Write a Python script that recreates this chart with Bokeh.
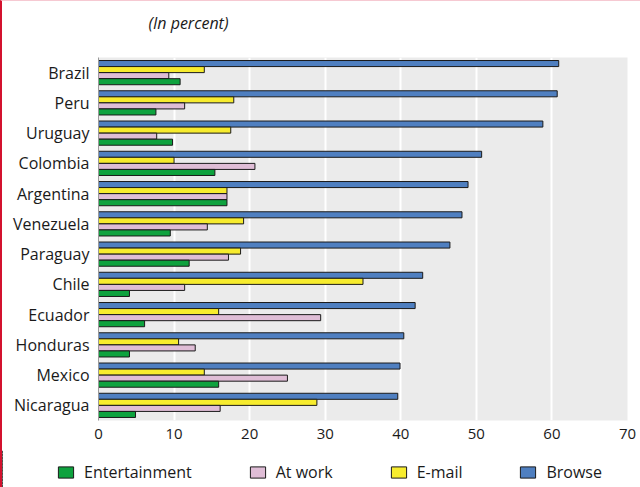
from bokeh.plotting import figure
from bokeh.layouts import column
from bokeh.models import (ColumnDataSource, FactorRange, Range1d, Legend, LegendItem,
                          FixedTicker, Label)
from bokeh.transform import dodge
from bokeh.embed import file_html
from bokeh.resources import INLINE

countries = ["Brazil", "Peru", "Uruguay", "Colombia", "Argentina", "Venezuela",
             "Paraguay", "Chile", "Ecuador", "Honduras", "Mexico", "Nicaragua"]
browse = [60.9, 60.7, 58.8, 50.7, 48.9, 48.1, 46.5, 42.9, 41.9, 40.4, 39.9, 39.6]
email = [14.0, 17.9, 17.5, 10.0, 17.0, 19.2, 18.8, 35.0, 15.9, 10.6, 14.0, 28.9]
at_work = [9.3, 11.4, 7.7, 20.7, 17.0, 14.4, 17.2, 11.4, 29.4, 12.8, 25.0, 16.1]
entertainment = [10.8, 7.6, 9.8, 15.4, 17.0, 9.5, 12.0, 4.1, 6.1, 4.1, 15.9, 4.9]
x_ticks = [0, 10, 20, 30, 40, 50, 60, 70]
title_text = "(In percent)"

source = ColumnDataSource(dict(country=countries, browse=browse, email=email,
                               at_work=at_work, entertainment=entertainment))

FONT = "Open Sans"
TXT = "#1a1a1a"
W = 638
ML, MR = 96, 13

series = [
    ("browse", 0.3, "#4f7fc0", "Browse"),
    ("email", 0.1, "#f7ec2e", "E-mail"),
    ("at_work", -0.1, "#dfbdd6", "At work"),
    ("entertainment", -0.3, "#0ea23e", "Entertainment"),
]

# ---- title strip
tf = figure(width=W, height=56, output_backend="svg", toolbar_location=None,
            x_axis_location=None, y_axis_location=None,
            x_range=Range1d(0, 70), y_range=Range1d(0, 1),
            min_border_left=ML, min_border_right=MR, min_border_top=0, min_border_bottom=0)
tf.outline_line_color = None
tf.grid.grid_line_color = None
tf.background_fill_color = "white"
tf.border_fill_color = "white"
tf.add_layout(Label(x=6.6, y=0.62, text=title_text, text_font=FONT, text_font_style="italic",
                    text_font_size="16px", text_color=TXT, text_baseline="middle",
                    text_align="left"))

# ---- main chart
p = figure(width=W, height=393, output_backend="svg", toolbar_location=None,
           y_range=FactorRange(factors=list(reversed(countries)), range_padding=0),
           x_range=tf.x_range,
           min_border_left=ML, min_border_right=MR, min_border_top=0, min_border_bottom=30)
p.background_fill_color = "#ebebeb"
p.border_fill_color = "white"
p.outline_line_color = None

for col, off, color, label in series:
    p.hbar(y=dodge("country", off, range=p.y_range), left=0, right=col, height=0.2,
           source=source, fill_color=color, line_color="#1a1a1a", line_width=1)

p.xgrid.grid_line_color = "white"
p.xgrid.grid_line_width = 2
p.ygrid.grid_line_color = None
p.xaxis.ticker = FixedTicker(ticks=x_ticks)
p.xaxis.axis_line_color = None
p.xaxis.major_tick_line_color = None
p.xaxis.major_tick_out = 0
p.xaxis.minor_tick_line_color = None
p.xaxis.major_label_text_font = FONT
p.xaxis.major_label_text_font_size = "15px"
p.xaxis.major_label_text_color = TXT
p.xaxis.major_label_standoff = 8

p.yaxis.axis_line_color = "#9a9a9a"
p.yaxis.major_tick_line_color = None
p.yaxis.major_tick_out = 0
p.yaxis.minor_tick_line_color = None
p.yaxis.major_label_text_font = FONT
p.yaxis.major_label_text_font_size = "16px"
p.yaxis.major_label_text_color = TXT
p.yaxis.major_label_standoff = 9

# ---- legend strip (same series, bars kept out of view; only the legend shows)
can_unalign = "frame_align" in figure.properties()
lf = figure(width=W, height=37, output_backend="svg", toolbar_location=None,
            x_axis_location=None, y_axis_location=None,
            x_range=Range1d(1000, 1001),
            y_range=FactorRange(factors=list(reversed(countries)), range_padding=0),
            min_border_left=0 if can_unalign else ML,
            min_border_right=0 if can_unalign else MR,
            min_border_top=0, min_border_bottom=0)
if can_unalign:
    lf.frame_align = False
lf.outline_line_color = None
lf.grid.grid_line_color = None
lf.background_fill_color = "white"
lf.border_fill_color = "white"
items = []
for col, off, color, label in reversed(series):
    r = lf.hbar(y=dodge("country", off, range=lf.y_range), left=0, right=col, height=0.2,
                source=source, fill_color=color, line_color="#1a1a1a", line_width=1)
    items.append(LegendItem(label=label, renderers=[r], index=0))

if can_unalign:
    leg_loc, leg_font, leg_space = (54, 4), "16px", 56
else:
    leg_loc, leg_font, leg_space = (2, 4), "15px", 46

legend = Legend(items=items, orientation="horizontal", location=leg_loc,
                glyph_width=19, glyph_height=14, spacing=leg_space, label_standoff=9,
                label_text_font=FONT, label_text_font_size=leg_font, label_text_color=TXT,
                border_line_color=None, background_fill_alpha=0, padding=0, margin=0)
lf.add_layout(legend)

layout = column(tf, p, lf, spacing=0,
                styles={"border-left": "2px solid #d3112e", "border-top": "1px solid #f6c9d2"})

open("out.html", "w").write(file_html(layout, INLINE))
